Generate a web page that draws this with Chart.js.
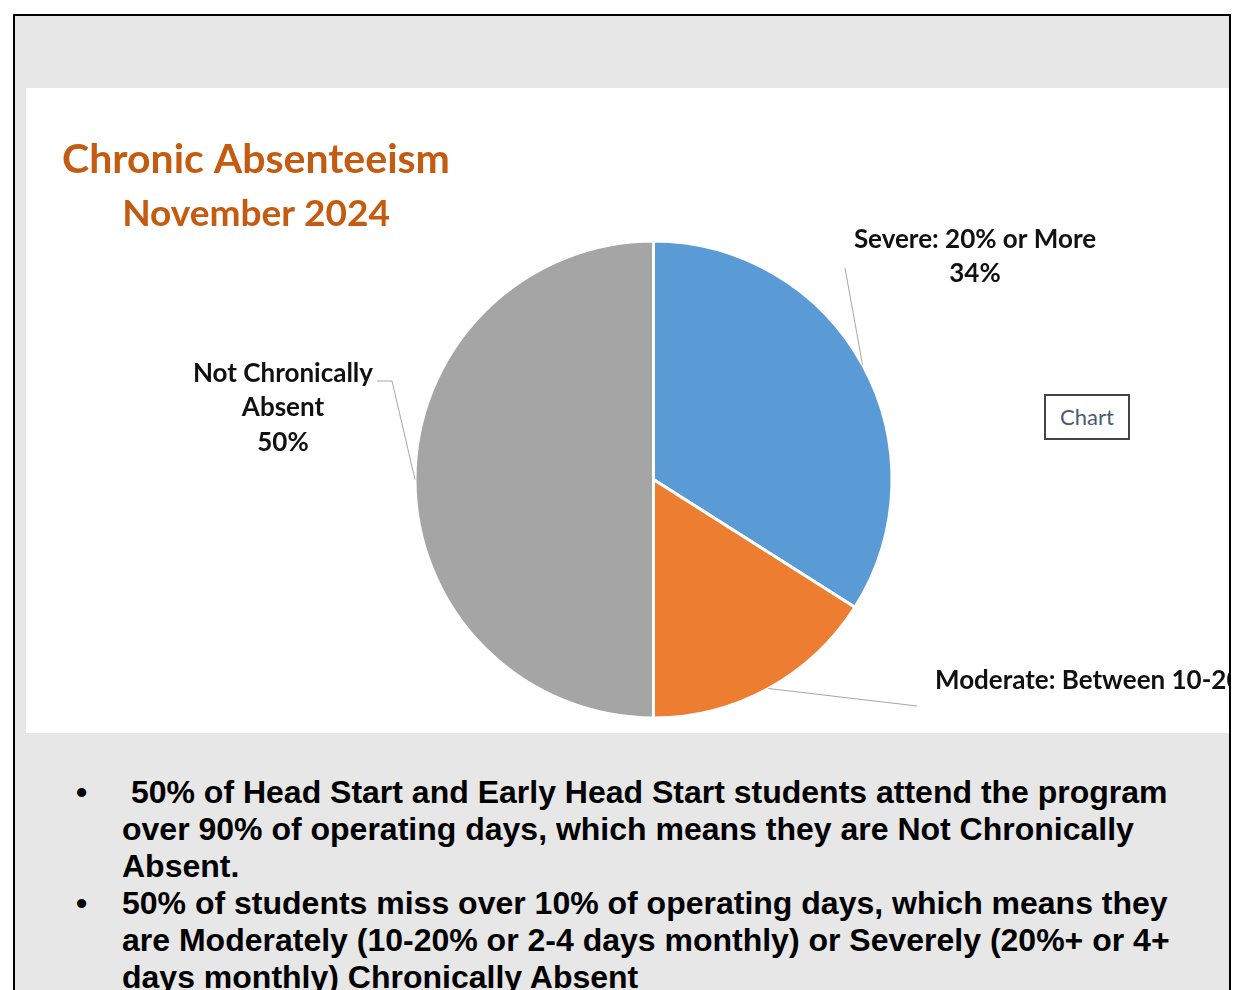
<!DOCTYPE html>
<html>
<head>
<meta charset="utf-8">
<script src="https://cdn.jsdelivr.net/npm/chart.js"></script>
<style>
  html, body { margin: 0; padding: 0; background: #fff; overflow: hidden; }
  body { width: 1233px; height: 990px; position: relative; }
  .frame {
    position: absolute; left: 13px; top: 14px; width: 1214px; height: 1000px;
    border: 2px solid #000; background: #e7e7e7; border-bottom: none;
  }
  .panel {
    position: absolute; left: 26px; top: 88px; width: 1203px; height: 645px;
    background: #fff; overflow: hidden;
  }
  .chart-tag {
    position: absolute; left: 1044px; top: 394px; width: 82px; height: 42px;
    border: 2px solid #444; background: #fff;
    font-family: Lato, "Open Sans", sans-serif; font-size: 22px; color: #4a5a75;
    text-align: center; line-height: 42px;
  }
  .notes {
    position: absolute; left: 0; top: 774px; width: 1233px;
    font-family: "Liberation Sans", Arial, sans-serif; font-weight: bold;
    font-size: 32px; line-height: 37px; color: #000;
  }
  .notes .item { position: relative; margin-left: 122px; width: 1062px; }
  .notes .item::before {
    content: "\2022"; position: absolute; left: -46px; top: 0;
  }
</style>
</head>
<body>
<div class="frame"></div>
<div class="panel"><canvas id="absentChart"></canvas></div>
<div class="chart-tag">Chart</div>
<div class="notes">
  <div class="item">&nbsp;50% of Head Start and Early Head Start students attend the program over 90% of operating days, which means they are Not Chronically Absent.</div>
  <div class="item">50% of students miss over 10% of operating days, which means they are Moderately (10-20% or 2-4 days monthly) or Severely (20%+ or 4+ days monthly) Chronically Absent</div>
</div>
<script>
// attendance categories, November 2024
const categories = ['Severe: 20% or More', 'Moderate: Between 10-20%', 'Not Chronically Absent'];
const shares = [34, 16, 50];
const sliceColors = ['#5b9bd5', '#ed7d31', '#a5a5a5'];
const titleLines = ['Chronic Absenteeism', 'November 2024'];

// label text lines per slice (value appended from shares)
const labelLines = [
  ['Severe: 20% or More'],
  ['Moderate: Between 10-20%'],
  ['Not Chronically', 'Absent']
];

// offsets from the pie centre: leader elbow/end and label anchor
const labelLayout = [
  { lineTo: [[191.5, -211.5]], text: [321.5, -240], align: 'center', inline: false },
  { lineTo: [[263.5, 226.5]], text: [281.5, 201], align: 'left', inline: true },
  { lineTo: [[-261.5, -98.5], [-276.5, -98.5]], text: [-370.5, -106], align: 'center', inline: false }
];

const calloutPlugin = {
  id: 'callouts',
  afterDraw(chart) {
    const c = chart.ctx;
    const meta = chart.getDatasetMeta(0);

    // title block
    c.save();
    c.fillStyle = '#c55a11';
    c.textAlign = 'center';
    c.textBaseline = 'alphabetic';
    c.font = 'bold 41px Lato';
    c.fillText(titleLines[0], 230, 85);
    c.font = 'bold 37px Lato';
    c.fillText(titleLines[1], 230, 138);
    c.restore();

    meta.data.forEach((arc, i) => {
      const p = arc.getProps(['x', 'y', 'startAngle', 'endAngle', 'outerRadius'], true);
      const mid = (p.startAngle + p.endAngle) / 2;
      const sx = p.x + Math.cos(mid) * p.outerRadius;
      const sy = p.y + Math.sin(mid) * p.outerRadius;
      const lay = labelLayout[i];

      c.save();
      c.strokeStyle = '#a6a6a6';
      c.lineWidth = 1;
      c.beginPath();
      c.moveTo(sx, sy);
      lay.lineTo.forEach(pt => c.lineTo(p.x + pt[0], p.y + pt[1]));
      c.stroke();

      c.fillStyle = '#111111';
      c.font = 'bold 26px Lato';
      c.textAlign = lay.align;
      c.textBaseline = 'middle';
      const pct = shares[i] + '%';
      const lines = lay.inline ? [labelLines[i].join(' ') + ' ' + pct] : labelLines[i].concat([pct]);
      lines.forEach((t, k) => {
        c.fillText(t, p.x + lay.text[0], p.y + lay.text[1] + k * 34.5);
      });
      c.restore();
    });
  }
};

new Chart(document.getElementById('absentChart').getContext('2d'), {
  type: 'pie',
  data: {
    labels: categories,
    datasets: [{
      data: shares,
      backgroundColor: sliceColors,
      borderColor: '#ffffff',
      borderWidth: 3
    }]
  },
  options: {
    responsive: true,
    maintainAspectRatio: false,
    animation: false,
    layout: { padding: { left: 387.5, right: 335.5, top: 151.5, bottom: 13.5 } },
    plugins: {
      legend: { display: false },
      tooltip: { enabled: false },
      title: { display: false }
    }
  },
  plugins: [calloutPlugin]
});
</script>
</body>
</html>
